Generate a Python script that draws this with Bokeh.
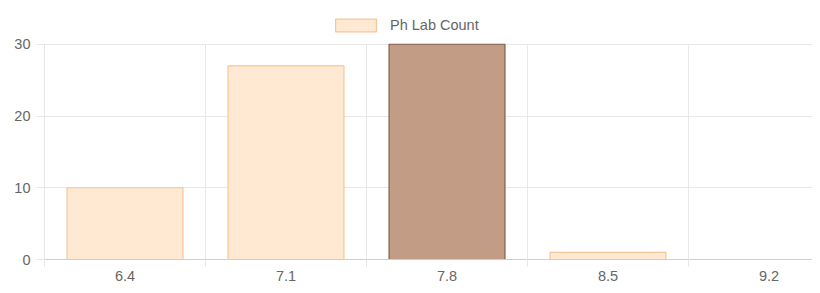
from bokeh.plotting import figure
from bokeh.models import ColumnDataSource, Range1d, FixedTicker, Legend, LegendItem
from bokeh.embed import file_html
from bokeh.resources import INLINE

categories = ["6.4", "7.1", "7.8", "8.5", "9.2"]
counts = [10, 27, 30, 1, 0]
fills = ["#FFE9D3", "#FFE9D3", "#C29C84", "#FFE9D3", "#FFE9D3"]
borders = ["#F5C796", "#F5C796", "#7E5E4C", "#F5C796", "#F5C796"]
y_ticks = [0, 10, 20, 30]

xs = [i + 0.5 for i in range(len(categories))]
edges = list(range(len(categories) + 1))
src = ColumnDataSource(dict(x=xs, top=counts, fill=fills, line=borders))

FONT = "Liberation Sans"
FS = "14.5px"
p = figure(width=812, height=285, output_backend="svg", toolbar_location=None,
           x_range=Range1d(0, 4.77), y_range=Range1d(0, 36.1),
           min_border_left=44, min_border_right=0, min_border_top=0, min_border_bottom=26)
p.outline_line_color = None

# vertical category grid lines, bounded to the value axis extent
p.segment(x0=edges, y0=[y_ticks[0]] * len(edges), x1=edges, y1=[y_ticks[-1]] * len(edges),
          line_color="#e8e8e8", line_width=1)

r = p.vbar(x="x", top="top", bottom=0, width=0.72, source=src,
           fill_color="fill", line_color="line", line_width=1.2)

# axes
p.xaxis.ticker = FixedTicker(ticks=xs, minor_ticks=edges)
p.xaxis.major_label_overrides = {x: c for x, c in zip(xs, categories)}
p.xaxis.major_tick_line_color = None
p.xaxis.minor_tick_in = 0
p.xaxis.minor_tick_out = 7
p.xaxis.minor_tick_line_color = "#e6e6e6"
p.xaxis.axis_line_color = "#cfcfcf"
p.xaxis.major_label_standoff = 4
p.yaxis.ticker = FixedTicker(ticks=y_ticks)
p.yaxis.bounds = (0, 30)
p.yaxis.minor_tick_line_color = None
p.yaxis.major_tick_in = 0
p.yaxis.major_tick_out = 8
p.yaxis.major_tick_line_color = "#e6e6e6"
p.yaxis.axis_line_color = "#e6e6e6"
p.yaxis.major_label_standoff = 6
for ax in (p.xaxis, p.yaxis):
    ax.major_label_text_font = FONT
    ax.major_label_text_font_size = FS
    ax.major_label_text_color = "#666666"

p.xgrid.grid_line_color = None
p.ygrid.ticker = FixedTicker(ticks=y_ticks)
p.ygrid.grid_line_color = "#e8e8e8"

legend = Legend(items=[LegendItem(label="Ph Lab Count", renderers=[r], index=0)],
                location=(286, 226), orientation="horizontal",
                glyph_width=51, glyph_height=16, label_height=16,
                label_standoff=9, padding=0, margin=0, spacing=0,
                border_line_color=None, background_fill_alpha=0,
                label_text_font=FONT, label_text_font_size=FS,
                label_text_color="#666666")
p.add_layout(legend, "center")

open("out.html", "w").write(file_html(p, INLINE))
